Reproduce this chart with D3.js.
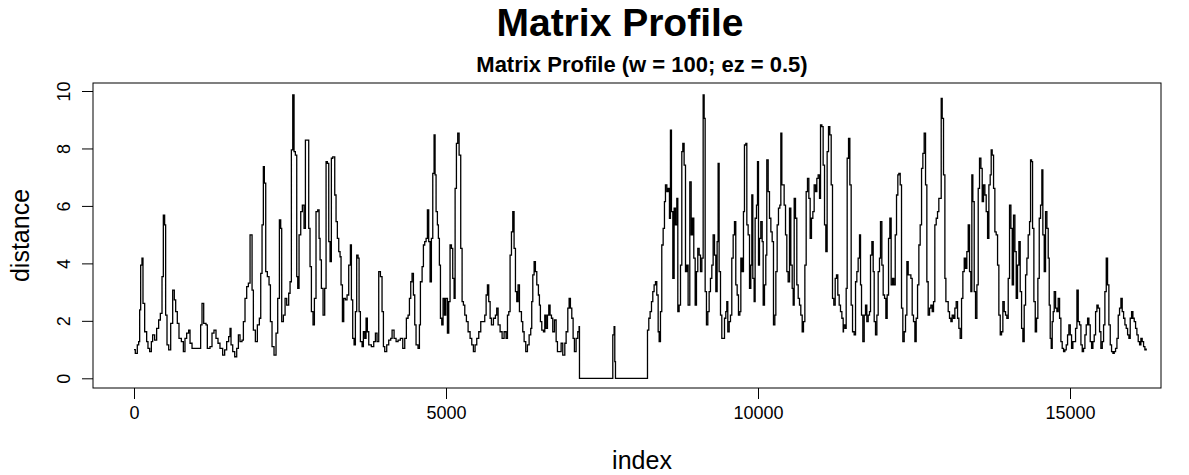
<!DOCTYPE html>
<html><head><meta charset="utf-8">
<script src="https://cdn.jsdelivr.net/npm/d3@7"></script>
<style>body{margin:0;background:#fff}svg{display:block}</style>
</head><body>
<svg id="c" width="1189" height="475"></svg>
<script>
const indexValues = [
0,21,53,75,91,107,128,144,171,203,224,251,278,299,331,363,395,422,449,470,491,507,529,556,588,620,646,668,694,721,759,791,817,844,876,898,930,972,1036,1068,1090,1117,1154,1175,1218,1250,1282,1314,1346,1378,1421,1453,1485,1517,1539,
1555,1582,1614,1646,1673,1699,1731,1753,1779,1806,1833,1860,1876,1892,1913,1945,1977,2009,2031,2052,2073,2089,2111,2137,2164,2186,2212,2244,2276,2303,2330,2351,2367,2394,2421,2447,2479,2501,2522,2544,2565,2586,2608,2624,2645,2672,2698,2725,2747,2779,2800,2821,2843,2869,2891,2917,2944,2966,2982,3003,3030,3056,3078,3099,3121,3142,3163,3185,
3217,3238,3259,3281,3302,3318,3340,3361,3388,3414,3441,3468,3484,3505,3527,3548,3569,3591,3607,3628,3655,3676,3698,3719,3740,3762,3804,3842,3869,3895,3922,3949,3975,3997,4018,4050,4082,4114,4136,4168,4200,4232,4269,4307,4339,4365,4392,4414,4435,4456,4478,4499,4520,4552,4574,4590,4617,4638,4659,4681,4702,4723,4745,4766,4788,4809,
4825,4841,4862,4878,4894,4911,4932,4953,4975,4996,5023,5044,5065,5087,5108,5130,5146,5167,5188,5210,5236,5258,5279,5301,5327,5354,5386,5413,5439,5466,5493,5525,5557,5589,5621,5643,5664,5685,5707,5728,5760,5792,5813,5835,5867,5899,5931,5963,5985,6006,6027,6049,6070,6091,6113,6134,6155,6177,6209,6230,6252,6278,6305,6332,6358,6374,6391,6412,6433,6455,
6481,6497,6513,6535,6562,6583,6604,6626,6647,6668,6690,6711,6738,6765,6786,6818,6845,6871,6904,6925,6952,6973,6994,7016,7037,7058,7085,7112,7133,7139,7662,7673,7694,7705,7716,
8223,8229,8250,8271,8293,8314,8335,8357,8378,8400,8416,8437,8458,8480,8501,8517,8539,8560,8581,8597,8613,8635,8656,8677,8699,8715,8736,8758,8779,8795,8816,8838,8859,8880,8907,8929,8950,8971,8993,9014,9035,9057,9078,9100,9121,9137,9153,9174,9196,9217,9238,9260,9281,9303,9324,9345,9361,9377,9399,9420,9441,9463,9484,9500,9516,9538,9559,9580,9602,9623,9644,9666,9687,9709,
9725,9746,9767,9783,9805,9821,9842,9864,9885,9901,9917,9938,9954,9976,9992,10008,10024,10045,10067,10083,10104,10125,10141,10163,10184,10206,10227,10248,10270,10286,10307,10328,10350,10366,10382,10403,10419,10441,10462,10483,10505,10526,10548,10564,10580,10601,10622,10644,10665,10686,10708,10729,10751,10772,10793,10815,10836,10857,10879,10900,10922,10943,10964,10986,11002,11023,11044,11066,11087,11108,11130,11151,11173,11194,11215,11237,11258,11279,11301,11322,11344,11365,
11370,11392,11413,11429,11451,11472,11493,11515,11541,11563,11584,11605,11627,11643,11659,11680,11702,11723,11744,11766,11787,11803,11825,11846,11862,11883,11905,11926,11947,11963,11985,12006,12028,12049,12070,12092,12113,12134,12156,12177,12199,12220,12241,12257,12279,12300,12321,12343,12364,12386,12407,12428,12450,12471,12492,12514,12535,12557,12578,12599,12621,12642,12663,12685,12706,12727,12749,12770,12792,12813,12834,12856,12877,12898,12920,12936,12952,12973,12995,13011,
13048,13069,13091,13112,13134,13155,13176,13198,13219,13240,13262,13283,13305,13326,13347,13369,13390,13411,13427,13443,13465,13486,13508,13529,13550,13572,13593,13614,13636,13657,13679,13700,13721,13737,13753,13775,13796,13817,13839,13860,13882,13903,13924,13946,13967,13988,14010,14031,14053,14074,14095,14117,14138,14159,14181,14202,14224,14245,14266,14288,14309,14330,14352,14368,14384,14400,14421,14443,14464,14485,14507,14528,14549,14565,14587,14608,14630,
14651,14667,14683,14699,14715,14731,14747,14769,14790,14811,14833,14854,14875,14897,14918,14940,14961,14982,15004,15025,15046,15068,15089,15111,15132,15153,15175,15196,15217,15239,15260,15282,15303,15324,15346,15367,15388,15410,15431,15452,15474,15495,15517,15538,15559,15581,15602,15623,15645,15666,15688,15709,15730,15752,15773,15794,15816,15837,15859,15880,15901,15923,15944,15965,15987,16008,16029,16051,16072,16093,16115,16136,16157,16179,16200,16221
];
const distanceValues = [
1.0,0.87,1.16,1.28,2.38,3.94,4.18,2.61,1.62,1.28,1.04,0.93,1.28,1.51,1.33,1.74,2.03,2.26,3.54,5.68,5.34,2.2,1.16,0.99,1.91,3.07,2.73,2.32,1.91,1.39,1.28,0.93,1.39,1.57,1.68,1.22,1.04,1.04,1.04,1.86,2.61,1.91,1.86,1.04,1.1,1.57,1.68,1.39,1.22,1.04,0.81,0.99,1.28,1.45,1.74,
1.16,0.93,0.75,1.04,1.51,1.28,1.33,1.97,2.78,3.19,3.31,4.99,4.99,3.07,1.68,1.28,1.86,2.09,3.65,5.34,7.37,6.79,3.71,3.54,3.25,1.97,1.1,0.81,1.57,2.78,5.51,5.22,1.97,2.2,2.78,2.55,2.96,3.36,7.95,9.86,7.89,7.77,3.54,3.13,4.99,5.8,6.03,5.22,8.29,8.29,5.22,3.89,2.32,1.86,2.78,5.8,5.86,4.87,4.12,3.13,2.2,3.13,7.54,7.48,4.76,4.06,7.66,7.71,
6.38,5.45,4.87,4.41,4.23,3.25,1.97,2.78,2.73,2.9,3.94,4.64,2.73,1.39,1.16,2.32,4.29,4.18,2.32,1.28,1.1,1.62,1.39,2.09,1.62,1.16,1.1,1.28,1.57,1.28,3.71,3.54,2.32,1.1,0.93,1.16,1.33,1.39,1.68,1.39,1.28,1.33,1.39,1.04,1.39,2.09,2.2,2.78,3.36,3.65,2.9,1.86,1.16,1.04,1.86,3.36,3.89,4.64,4.76,4.87,5.86,4.76,3.36,4.87,7.13,8.47,
7.08,5.8,5.34,4.87,3.94,2.09,1.86,2.78,2.2,2.78,1.57,2.67,4.64,4.52,3.48,2.78,6.61,8.18,8.53,7.77,4.52,2.67,2.55,2.2,1.97,1.62,1.39,1.16,0.93,1.16,1.39,1.62,1.97,1.97,2.2,2.9,3.25,2.67,2.09,1.86,2.09,2.2,2.44,1.86,1.62,1.39,1.62,1.39,2.2,2.32,4.29,5.1,5.8,4.52,3.02,2.67,3.25,2.32,1.97,1.62,1.28,0.93,1.16,1.51,1.74,2.67,3.6,4.06,3.71,3.25,
2.9,2.55,1.97,1.68,1.62,2.2,1.74,2.2,2.55,2.2,2.09,1.62,2.03,1.28,0.93,0.93,1.22,0.81,1.22,1.62,2.44,2.78,2.44,2.09,1.39,0.93,1.39,1.62,1.8,0,0,1.51,1.8,0.58,0,
0,1.68,2.09,2.32,2.67,3.02,3.25,3.36,2.9,1.62,1.28,2.32,4.64,5.22,6.15,6.73,6.5,6.61,5.57,8.64,5.8,3.48,5.92,5.34,6.26,2.32,2.55,3.94,7.89,8.18,7.42,3.71,3.94,2.55,6.84,4.99,5.57,4.18,2.55,3.71,4.52,4.29,3.71,4.18,9.86,9.05,3.02,1.86,2.32,3.02,3.48,3.94,4.99,4.29,3.02,4.76,7.48,3.71,2.2,1.39,1.39,2.09,2.32,2.67,1.62,1.97,2.2,4.18,4.99,5.45,3.25,2.9,2.2,2.32,
4.18,3.71,5.8,8.12,8.18,5.34,4.99,3.13,3.94,6.38,3.48,2.67,5.57,6.03,7.54,3.94,4.87,5.45,4.76,2.55,3.25,4.29,7.6,6.5,5.57,5.1,4.76,1.86,2.2,3.71,5.34,5.92,6.03,8.53,6.73,6.73,6.03,4.99,3.71,3.36,5.92,3.94,3.13,2.55,6.26,5.57,3.25,2.78,2.55,2.2,1.62,1.97,3.94,6.5,6.96,6.26,4.87,5.57,5.8,6.73,6.5,6.96,7.08,6.26,8.82,8.76,7.42,5.34,4.41,7.89,8.76,8.47,6.73,2.78,2.55,3.48,3.6,2.9,2.55,2.32,2.09,1.62,
1.86,1.74,3.13,7.66,8.35,6.73,2.55,1.62,1.51,3.36,3.71,4.18,4.99,3.25,2.2,1.28,2.2,2.55,1.97,2.2,2.32,4.29,4.76,3.71,1.97,1.51,2.2,3.71,4.18,5.45,3.94,2.9,2.78,2.09,2.9,4.87,5.57,3.25,3.48,3.25,4.99,6.38,7.08,7.13,6.73,2.44,1.28,1.62,2.2,4.06,3.6,3.6,3.48,2.2,1.97,1.28,2.09,3.25,4.64,5.34,7.31,7.83,8.53,6.73,3.36,2.2,2.44,2.55,2.32,2.67,5.34,5.57,5.8,6.26,6.26,9.74,9.05,7.08,3.48,2.67,
2.32,2.09,1.97,2.2,2.09,2.44,2.67,2.09,1.74,1.39,2.78,3.71,4.18,3.83,4.41,5.34,3.71,3.02,7.08,6.15,3.02,2.09,3.25,6.61,7.66,7.31,6.15,6.73,6.38,5.8,4.87,6.73,7.08,7.95,7.77,6.61,5.1,4.99,3.94,2.2,1.51,1.62,2.67,2.32,2.2,2.09,3.48,6.03,5.22,3.25,5.68,4.41,2.78,3.94,4.76,3.02,1.74,1.28,2.55,3.6,4.18,4.99,5.45,7.6,7.54,5.22,2.67,1.62,2.09,3.48,5.57,6.03,7.25,4.99,3.71,5.8,5.22,
4.18,2.55,1.39,1.04,1.97,2.32,3.02,2.44,2.32,2.78,2.09,1.28,1.04,0.93,0.99,1.16,1.51,1.86,1.51,1.04,1.28,1.28,1.74,3.07,1.97,1.86,1.16,0.93,1.04,1.51,1.86,2.09,1.86,1.28,1.04,1.28,1.51,2.32,2.55,2.44,1.62,1.04,1.28,1.86,3.02,4.18,3.25,1.86,1.16,0.93,0.87,0.93,1.04,1.39,2.2,2.44,2.78,2.32,2.09,1.86,1.74,1.51,1.39,2.09,2.32,2.09,1.97,1.74,1.51,1.28,1.16,1.39,1.28,1.1,0.99,1.04
];
const xTicks = [0, 5000, 10000, 15000];
const yTicks = [0, 2, 4, 6, 8, 10];
const titleText = "Matrix Profile";
const subtitleText = "Matrix Profile (w = 100; ez = 0.5)";
const xLabelText = "index";
const yLabelText = "distance";

const W = 1189, H = 475;
const box = {l: 93, r: 1161, t: 83, b: 388};
const svg = d3.select("#c");
svg.append("rect").attr("width", W).attr("height", H).attr("fill", "#fff");

const x = d3.scaleLinear().domain([0, 15000]).range([134, 1070]);
const y = d3.scaleLinear().domain([0, 10]).range([378.3, 91]);

const data = indexValues.map((v, i) => ({i: v, d: distanceValues[i]}));
const FONT = "'Liberation Sans', Arial, sans-serif";

// line
svg.append("path")
  .datum(data)
  .attr("fill", "none")
  .attr("stroke", "#000")
  .attr("stroke-width", 1.3)
  .attr("d", d3.line().curve(d3.curveStepAfter).x(p => x(p.i)).y(p => y(p.d)));

// box
svg.append("rect")
  .attr("x", box.l).attr("y", box.t)
  .attr("width", box.r - box.l).attr("height", box.b - box.t)
  .attr("fill", "none").attr("stroke", "#000").attr("stroke-width", 1);

// x axis
const gx = svg.append("g").attr("transform", `translate(0,${box.b})`)
  .call(d3.axisBottom(x).tickValues(xTicks).tickSize(11).tickPadding(7).tickFormat(d3.format("d")));
gx.select(".domain").remove();
gx.selectAll("line").attr("stroke", "#000");
gx.selectAll("text").attr("font-family", FONT).attr("font-size", 18).attr("fill", "#000");

// y axis
const gy = svg.append("g").attr("transform", `translate(${box.l},0)`)
  .call(d3.axisLeft(y).tickValues(yTicks).tickSize(11).tickFormat(d3.format("d")));
gy.select(".domain").remove();
gy.selectAll("line").attr("stroke", "#000");
gy.selectAll("text")
  .attr("font-family", FONT).attr("font-size", 18).attr("fill", "#000")
  .attr("text-anchor", "middle").attr("dy", null)
  .attr("x", 0).attr("y", -23)
  .attr("transform", "rotate(-90)");

// titles
svg.append("text").attr("x", 620).attr("y", 36).attr("text-anchor", "middle")
  .attr("font-family", FONT).attr("font-weight", "bold").attr("font-size", 39).text(titleText);
svg.append("text").attr("x", 642).attr("y", 72).attr("text-anchor", "middle")
  .attr("font-family", FONT).attr("font-weight", "bold").attr("font-size", 22).text(subtitleText);

// axis labels
svg.append("text").attr("x", 642).attr("y", 469).attr("text-anchor", "middle")
  .attr("font-family", FONT).attr("font-size", 25).text(xLabelText);
svg.append("text").attr("transform", `translate(29,${(box.t + box.b) / 2}) rotate(-90)`)
  .attr("text-anchor", "middle")
  .attr("font-family", FONT).attr("font-size", 25).text(yLabelText);
</script>
</body></html>
